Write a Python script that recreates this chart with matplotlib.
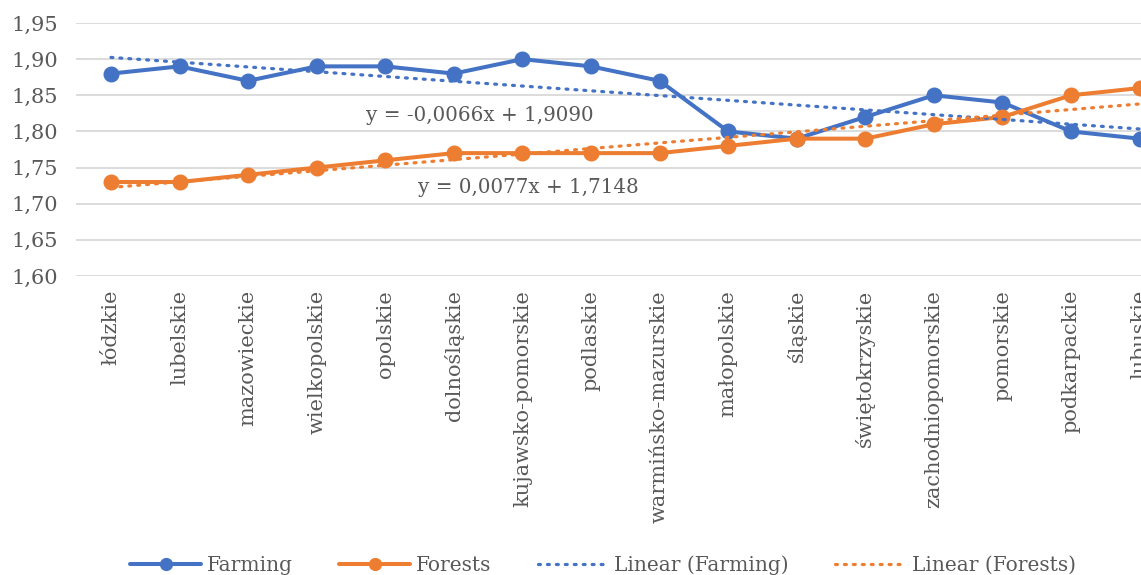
import matplotlib
matplotlib.use("Agg")
import matplotlib.pyplot as plt
import numpy as np

regions = ["łódzkie", "lubelskie", "mazowieckie", "wielkopolskie", "opolskie",
           "dolnośląskie", "kujawsko-pomorskie", "podlaskie", "warmińsko-mazurskie",
           "małopolskie", "śląskie", "świętokrzyskie", "zachodniopomorskie",
           "pomorskie", "podkarpackie", "lubuskie"]
farming = [1.88, 1.89, 1.87, 1.89, 1.89, 1.88, 1.90, 1.89, 1.87,
           1.80, 1.79, 1.82, 1.85, 1.84, 1.80, 1.79]
forests = [1.73, 1.73, 1.74, 1.75, 1.76, 1.77, 1.77, 1.77, 1.77,
           1.78, 1.79, 1.79, 1.81, 1.82, 1.85, 1.86]
# linear trend coefficients (slope, intercept), x counted from 1
trend_farming = (-0.0066, 1.9090)
trend_forests = (0.0077, 1.7148)
y_ticks = [1.60, 1.65, 1.70, 1.75, 1.80, 1.85, 1.90, 1.95]

BLUE = "#4472C4"
ORANGE = "#ED7D31"
TEXT = "#595959"
GRID = "#D9D9D9"

plt.rcParams["font.family"] = ["DejaVu Serif"]

W, H = 1141, 575
fig = plt.figure(figsize=(W / 100, H / 100), dpi=100)
ax = fig.add_axes([76 / W, 1 - 276 / H, 1 - 76 / W, (276 - 23) / H])

x = np.arange(len(regions))
xn = x + 1

l1, = ax.plot(x, farming, color=BLUE, lw=2.9, marker="o", ms=10.5,
              solid_capstyle="round", zorder=3, label="Farming")
l2, = ax.plot(x, forests, color=ORANGE, lw=2.9, marker="o", ms=10.5,
              solid_capstyle="round", zorder=3, label="Forests")

tf = trend_farming[0] * xn + trend_farming[1]
to = trend_forests[0] * xn + trend_forests[1]
l3, = ax.plot(x, tf, color=BLUE, lw=2.3, linestyle=(0, (0.6, 2.2)),
              dash_capstyle="round", zorder=4, label="Linear (Farming)")
l4, = ax.plot(x, to, color=ORANGE, lw=2.3, linestyle=(0, (0.6, 2.2)),
              dash_capstyle="round", zorder=4, label="Linear (Forests)")

def fmt(v, nd):
    return f"{v:.{nd}f}".replace(".", ",")

eq1 = f"y = {fmt(trend_farming[0], 4)}x + {fmt(trend_farming[1], 4)}"
eq2 = f"y = {fmt(trend_forests[0], 4)}x + {fmt(trend_forests[1], 4)}"
ax.text(5.38, 1.8227, eq1, color=TEXT, fontsize=14.3, ha="center", va="center")
ax.text(6.09, 1.7231, eq2, color=TEXT, fontsize=14.3, ha="center", va="center")

ax.set_xlim(-0.51, 15.02)
ax.set_ylim(1.60, 1.95)
ax.set_yticks(y_ticks)
ax.set_yticklabels([fmt(v, 2) for v in y_ticks])
ax.set_xticks(x)
ax.set_xticklabels(regions, rotation=90, va="top", ha="center")
ax.tick_params(axis="both", length=0, colors=TEXT, labelsize=15)
ax.tick_params(axis="y", pad=13)
ax.tick_params(axis="x", pad=10)
ax.grid(axis="y", color=GRID, lw=1.3)
ax.set_axisbelow(True)
for s in ax.spines.values():
    s.set_visible(False)

leg = fig.legend(handles=[l1, l2, l3, l4], loc="center", ncol=4,
                 bbox_to_anchor=(603 / W, 1 - 565 / H), frameon=False,
                 fontsize=14.5, handlelength=3.5, handletextpad=0.3,
                 columnspacing=2.3, labelcolor=TEXT)
for h in leg.legend_handles:
    if h.get_marker() == "o":
        h.set_markersize(8.5)

fig.savefig("out.png", dpi=100)
